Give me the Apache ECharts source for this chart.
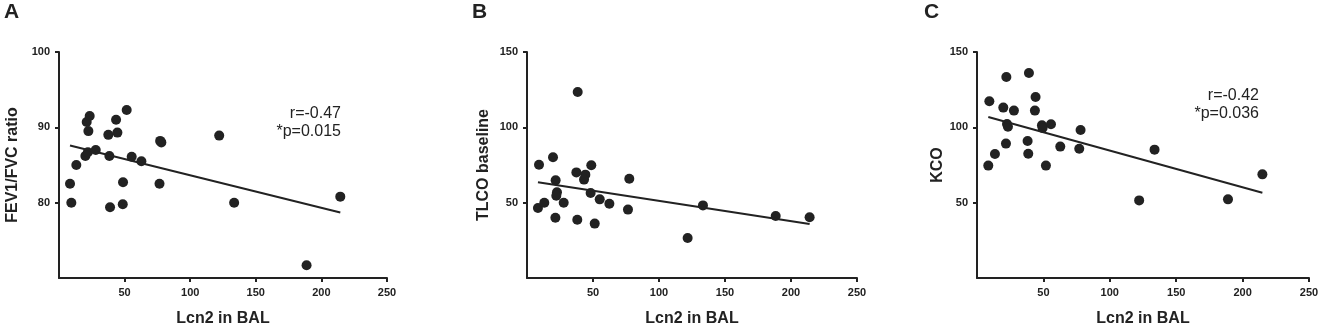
<!DOCTYPE html>
<html>
<head>
<meta charset="utf-8">
<script src="https://cdn.jsdelivr.net/npm/echarts@6/dist/echarts.min.js"></script>
<style>
  html, body { margin: 0; padding: 0; background: #fff; }
  #chart { width: 1325px; height: 329px; }
</style>
</head>
<body>
<div id="chart"></div>
<script>
// Lcn2 in BAL vs lung function
var xTicks = [50, 100, 150, 200, 250];

var lcnA = [8.4, 9.4, 13.2, 20.1, 21.1, 23.4, 22.4, 22.0, 28.0, 37.6, 38.4, 38.9, 43.5, 44.5, 51.6, 48.8, 48.6, 55.4, 62.8, 76.6, 77.1, 78.0, 122.1, 133.5, 188.7, 214.4];
var fev1fvc = [82.5, 80.0, 85.0, 86.2, 90.7, 91.5, 89.5, 86.7, 87.0, 89.0, 86.2, 79.4, 91.0, 89.3, 92.3, 82.7, 79.8, 86.1, 85.5, 82.5, 88.2, 88.0, 88.9, 80.0, 71.7, 80.8];
var fitA = [[8.4, 87.6], [214.4, 78.7]];

var lcnB = [8.3, 9.1, 13.1, 19.7, 21.7, 21.5, 22.7, 22.2, 27.8, 37.4, 38.4, 38.1, 44.2, 43.2, 48.7, 48.2, 51.3, 55.1, 62.4, 76.5, 77.5, 121.7, 133.3, 188.4, 214.1];
var tlco = [46.5, 75.2, 50.0, 80.1, 64.8, 40.0, 56.9, 54.6, 50.0, 70.1, 123.5, 38.7, 68.6, 65.3, 74.8, 56.4, 36.1, 52.2, 49.3, 45.4, 65.9, 26.5, 48.2, 41.2, 40.3];
var fitB = [[8.3, 63.5], [214.1, 35.8]];

var lcnC = [8.5, 9.3, 13.5, 19.8, 22.1, 22.6, 23.3, 21.8, 27.8, 39.1, 38.1, 38.6, 44.1, 43.6, 48.9, 49.4, 51.9, 55.7, 62.7, 78.0, 77.0, 122.1, 133.7, 189.0, 214.9];
var kco = [74.6, 117.3, 82.3, 113.1, 133.4, 102.2, 100.4, 89.2, 111.1, 136.1, 90.9, 82.5, 120.1, 111.1, 101.3, 99.6, 74.6, 102.0, 87.2, 98.2, 85.8, 51.5, 85.2, 52.2, 68.8];
var fitC = [[8.5, 106.9], [214.9, 56.6]];

var panels = [
  { letter: 'A', yName: 'FEV1/FVC ratio', x: lcnA, y: fev1fvc, fit: fitA, yMin: 70, yMax: 100, yTicks: [80, 90, 100], nameGap: 38,
    stats: 'r=-0.47\n*p=0.015' },
  { letter: 'B', yName: 'TLCO baseline', x: lcnB, y: tlco, fit: fitB, yMin: 0, yMax: 150, yTicks: [50, 100, 150], nameGap: 35,
    stats: '' },
  { letter: 'C', yName: 'KCO', x: lcnC, y: kco, fit: fitC, yMin: 0, yMax: 150, yTicks: [50, 100, 150], nameGap: 31,
    stats: 'r=-0.42\n*p=0.036' }
];

var gridBoxes = [
  { left: 59, top: 52, width: 328, height: 226 },
  { left: 527, top: 52, width: 330, height: 226 },
  { left: 977, top: 52, width: 332, height: 226 }
];
var letterPos = [[4, 2], [472, 2], [924, 2]];
var statsPos = [[341, 105], null, [1259, 87]];

var ink = '#222';
var font = '"Liberation Sans", Arial, sans-serif';

function zip(xs, ys) {
  return xs.map(function (v, i) { return [v, ys[i]]; });
}

var chart = echarts.init(document.getElementById('chart'));

var grid = [], xAxis = [], yAxis = [], series = [], graphic = [];

panels.forEach(function (p, i) {
  var box = gridBoxes[i];
  grid.push({ left: box.left, top: box.top, width: box.width, height: box.height, outerBoundsMode: 'none', containLabel: false });
  xAxis.push({
    type: 'value', gridIndex: i, min: 0, max: 250,
    name: 'Lcn2 in BAL', nameLocation: 'middle', nameGap: 33,
    nameTextStyle: { fontFamily: font, fontWeight: 'bold', fontSize: 16, color: ink },
    axisLine: { lineStyle: { color: ink, width: 2 } },
    axisTick: { show: true, length: 4, lineStyle: { color: ink, width: 2 }, customValues: xTicks },
    axisLabel: { customValues: xTicks, margin: 9, fontFamily: font, fontWeight: 'bold', fontSize: 11, color: ink },
    splitLine: { show: false }
  });
  yAxis.push({
    type: 'value', gridIndex: i, min: p.yMin, max: p.yMax,
    name: p.yName, nameLocation: 'middle', nameGap: p.nameGap,
    nameTextStyle: { fontFamily: font, fontWeight: 'bold', fontSize: 16, color: ink },
    axisLine: { show: true, lineStyle: { color: ink, width: 2 } },
    axisTick: { show: true, length: 4, lineStyle: { color: ink, width: 2 }, customValues: p.yTicks },
    axisLabel: { customValues: p.yTicks, margin: 9, fontFamily: font, fontWeight: 'bold', fontSize: 11, color: ink },
    splitLine: { show: false }
  });
  series.push({
    type: 'scatter', xAxisIndex: i, yAxisIndex: i,
    data: zip(p.x, p.y), symbolSize: 10,
    itemStyle: { color: ink, opacity: 1 }
  });
  series.push({
    type: 'line', xAxisIndex: i, yAxisIndex: i,
    data: p.fit, symbol: 'none',
    lineStyle: { color: ink, width: 2 }
  });
  graphic.push({
    type: 'text', left: letterPos[i][0], top: letterPos[i][1],
    style: { text: p.letter, font: 'bold 21px ' + font, fill: ink }
  });
  if (p.stats) {
    graphic.push({
      type: 'text', x: statsPos[i][0], y: statsPos[i][1],
      style: { text: p.stats, font: '16px ' + font, fill: ink, textAlign: 'right', lineHeight: 18 }
    });
  }
});

chart.setOption({
  animation: false,
  backgroundColor: '#fff',
  grid: grid,
  xAxis: xAxis,
  yAxis: yAxis,
  series: series,
  graphic: graphic
});
</script>
</body>
</html>
